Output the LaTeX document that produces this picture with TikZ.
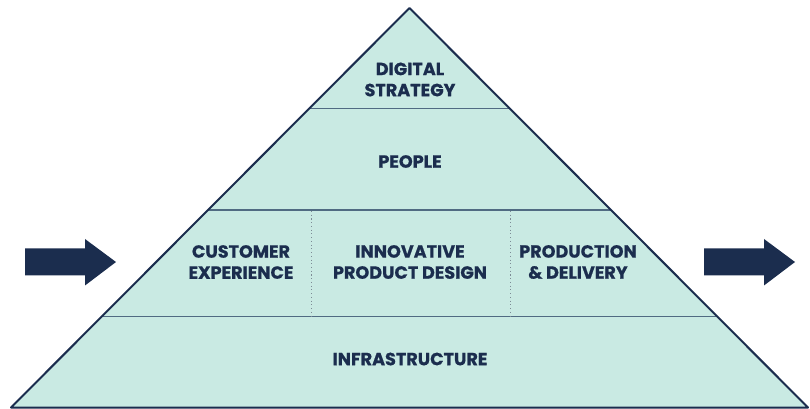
\documentclass[tikz,border=0pt]{standalone}
\usepackage{fontspec}
\setmainfont{Poppins}[BoldFeatures={FakeBold=0.8}]
\usetikzlibrary{calc}
\definecolor{mint}{HTML}{C9EAE3}
\definecolor{navy}{HTML}{1B2D4E}
\definecolor{sep}{HTML}{506B82}
\definecolor{dotc}{HTML}{7D8C96}
\tikzset{
  lbl/.style={text=navy, font=\fontsize{13.2}{15.8}\selectfont\bfseries, align=center, inner sep=0pt},
  sepline/.style={draw=sep, line width=1.1pt},
  dotline/.style={draw=dotc, line width=0.8pt, dotted},
  bigarrow/.style={fill=navy}
}
\begin{document}
\begin{tikzpicture}[x=0.75pt,y=-0.75pt]
\useasboundingbox (0,0) rectangle (810,409);
\coordinate (A) at (409.5,8);
\coordinate (BL) at (11,407.5);
\coordinate (BR) at (808,407.5);
\fill[mint] (A) -- (BL) -- (BR) -- cycle;
% separators
\coordinate (s1l) at ($(A)!0.2516!(BL)$);
\coordinate (s1r) at ($(A)!0.2516!(BR)$);
\coordinate (s2l) at ($(A)!0.5056!(BL)$);
\coordinate (s2r) at ($(A)!0.5056!(BR)$);
\coordinate (s3l) at ($(A)!0.7727!(BL)$);
\coordinate (s3r) at ($(A)!0.7727!(BR)$);
\draw[sepline] (s1l) -- (s1r);
\draw[sepline] (s2l) -- (s2r);
\draw[sepline] (s3l) -- (s3r);
\coordinate (d1t) at (311.5,211);
\coordinate (d1b) at (311.5,316);
\coordinate (d2t) at (510.5,211);
\coordinate (d2b) at (510.5,316);
\draw[dotline] (d1t) -- (d1b);
\draw[dotline] (d2t) -- (d2b);
\draw[navy, line width=1.5pt, line join=round] (A) -- (BL) -- (BR) -- cycle;
% labels
\node[lbl] (digital) at (410,79.5) {DIGITAL\\STRATEGY};
\node[lbl] (people) at (410,161.5) {PEOPLE};
\node[lbl] (customer) at (241,262) {CUSTOMER\\EXPERIENCE};
\node[lbl] (innov) at (410,262) {INNOVATIVE\\PRODUCT DESIGN};
\node[lbl] (prod) at (578,262) {PRODUCTION\\\& DELIVERY};
\node[lbl] (infra) at (410,359) {INFRASTRUCTURE};
% arrows
\fill[bigarrow] (25,248.5) -- (85,248.5) -- (85,239) -- (116,262) -- (85,285.5) -- (85,275.5) -- (25,275.5) -- cycle;
\fill[bigarrow] (704,248.5) -- (764,248.5) -- (764,239) -- (795,262) -- (764,285.5) -- (764,275.5) -- (704,275.5) -- cycle;
\end{tikzpicture}
\end{document}
